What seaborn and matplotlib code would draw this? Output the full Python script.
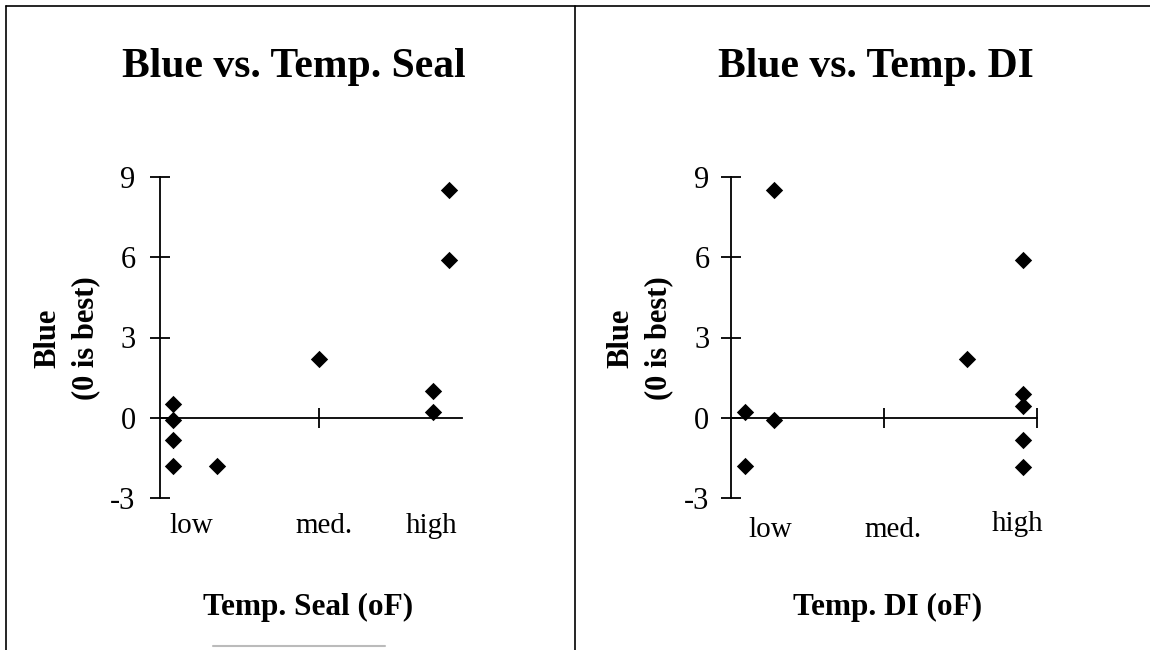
import matplotlib
matplotlib.use("Agg")
import matplotlib.pyplot as plt
import seaborn as sns
import pandas as pd
from matplotlib.lines import Line2D

# Blue score against sealing temperature (position along the low/med./high scale)
seal_temp = [0.08, 0.08, 0.08, 0.08, 0.36, 1.00, 1.72, 1.72, 1.82, 1.82]
seal_blue = [0.5, -0.1, -0.85, -1.8, -1.8, 2.2, 1.0, 0.2, 8.5, 5.9]

# Blue score against DI water temperature
di_temp = [0.09, 0.09, 0.28, 0.28, 1.54, 1.91, 1.91, 1.91, 1.91, 1.91]
di_blue = [0.2, -1.8, 8.5, -0.1, 2.2, 5.9, 0.9, 0.45, -0.85, -1.85]

categories = ["low", "med.", "high"]
y_ticks = [-3, 0, 3, 6, 9]

titles = ["Blue vs. Temp. Seal", "Blue vs. Temp. DI"]
x_labels = ["Temp. Seal (oF)", "Temp. DI (oF)"]
y_label = "Blue\n(0 is best)"

sns.set_theme(style="white")
plt.rcParams["font.family"] = ["Liberation Serif", "DejaVu Serif"]

W, H = 1150, 650
fig = plt.figure(figsize=(W / 100, H / 100), dpi=100)


def fx(px):
    return px / W


def fy(py):
    return 1 - py / H


panels = [
    dict(temp=seal_temp, blue=seal_blue, ax_rect=(160, 177, 478, 498),
         xticks=[1], spine_end=1.9, tick_pad=10,
         cat_x=[0.195, 1.03, 1.71], cat_y=[-4.05, -4.05, -4.05],
         title_xy=(294, 67), xlabel_xy=(308, 607), ylabel_xy=(67, 338)),
    dict(temp=di_temp, blue=di_blue, ax_rect=(731, 177, 1037, 498),
         xticks=[1, 2], spine_end=2.0, tick_pad=8,
         cat_x=[0.26, 1.06, 1.87], cat_y=[-4.2, -4.2, -3.98],
         title_xy=(876, 67), xlabel_xy=(888, 607), ylabel_xy=(640, 338)),
]

for i, p in enumerate(panels):
    x0, y0, x1, y1 = p["ax_rect"]
    ax = fig.add_axes([fx(x0), fy(y1), fx(x1 - x0), (y1 - y0) / H])
    df = pd.DataFrame({"temp": p["temp"], "blue": p["blue"]})
    sns.scatterplot(data=df, x="temp", y="blue", ax=ax, marker="D",
                    color="black", s=78, linewidth=0, clip_on=False, zorder=5)
    ax.set_xlim(0, 2)
    ax.set_ylim(-3, 9)
    ax.set_xlabel("")
    ax.set_ylabel("")
    ax.patch.set_alpha(0)
    for s in ["top", "right"]:
        ax.spines[s].set_visible(False)
    ax.spines["left"].set_position(("data", 0))
    ax.spines["bottom"].set_position(("data", 0))
    ax.spines["bottom"].set_bounds(0, p["spine_end"])
    for s in ["left", "bottom"]:
        ax.spines[s].set_color("black")
        ax.spines[s].set_linewidth(1.3)
    ax.set_yticks(y_ticks)
    ax.set_yticklabels([str(v) for v in y_ticks])
    ax.set_xticks(p["xticks"])
    ax.set_xticklabels([])
    ax.tick_params(axis="both", direction="inout", length=15, width=1.3,
                   color="black")
    ax.tick_params(axis="y", labelsize=22, pad=p["tick_pad"],
                   labelcolor="black", left=True)
    ax.tick_params(axis="x", bottom=True)

    for lab, cx, cy in zip(categories, p["cat_x"], p["cat_y"]):
        ax.text(cx, cy, lab, ha="center", va="center", fontsize=21,
                color="black", clip_on=False)

    tx, ty = p["title_xy"]
    fig.text(fx(tx), fy(ty), titles[i], ha="center", va="center",
             fontsize=30, fontweight="bold", color="black")
    lx, ly = p["xlabel_xy"]
    fig.text(fx(lx), fy(ly), x_labels[i], ha="center", va="center",
             fontsize=22.5, fontweight="bold", color="black")
    yx, yy = p["ylabel_xy"]
    fig.text(fx(yx), fy(yy), y_label, ha="center", va="center",
             rotation=90, fontsize=22, fontweight="bold", color="black",
             linespacing=1.4, multialignment="center")

# Frame lines around the two panels
frame = [((6, 1150), (6, 6)), ((6, 6), (6, 650)), ((575, 575), (6, 650))]
for xs, ys in frame:
    fig.add_artist(Line2D([fx(v) for v in xs], [fy(v) for v in ys],
                          color="black", linewidth=1.2))
fig.add_artist(Line2D([fx(213), fx(385)], [fy(646), fy(646)],
                      color="#bbbbbb", linewidth=1.5))

fig.savefig("out.png", dpi=100)
